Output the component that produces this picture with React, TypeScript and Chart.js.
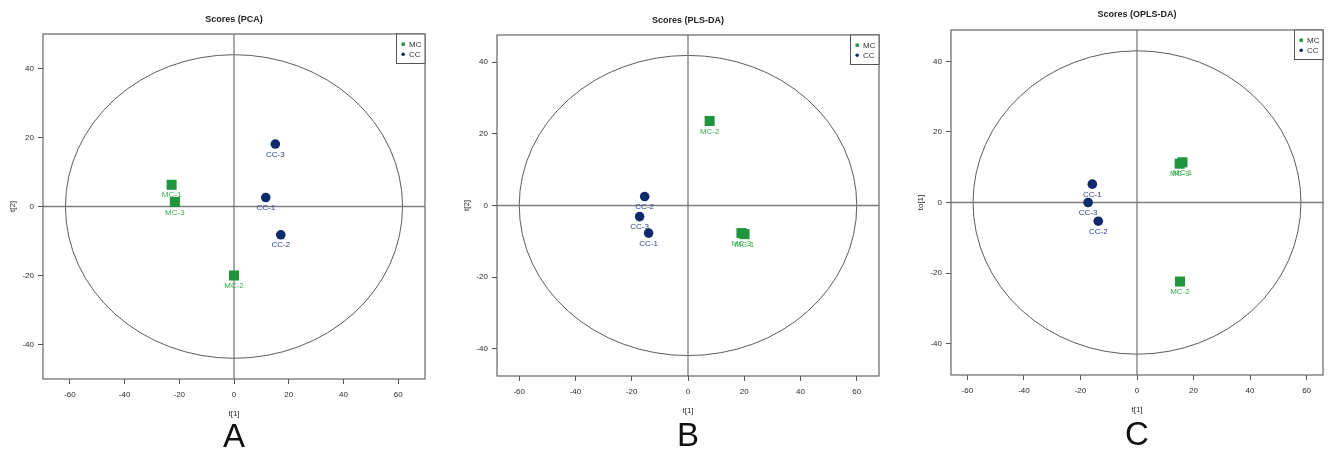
import React, { useEffect, useRef } from 'react';
import { Chart, registerables } from 'chart.js';

Chart.register(...registerables);

const FONT = '"Liberation Sans", Arial, Helvetica, sans-serif';
const W = 1339;
const H = 454;

// ---- shared tick labels ----
const xTickValues = [-60, -40, -20, 0, 20, 40, 60];
const yTickValues = [-40, -20, 0, 20, 40];
const groupNames = ['MC', 'CC'];

// ---- Panel A: PCA ----
const pcaMcLabels = ['MC-1', 'MC-2', 'MC-3'];
const pcaMcX = [-22.8, 0.0, -21.6];
const pcaMcY = [6.3, -20.0, 1.3];
const pcaCcLabels = ['CC-1', 'CC-2', 'CC-3'];
const pcaCcX = [11.6, 17.1, 15.1];
const pcaCcY = [2.6, -8.2, 18.1];
const pcaXRange = [-69.8, 69.8];
const pcaYRange = [-50, 50];
const pcaEllipse = [61.6, 44.0];

// ---- Panel B: PLS-DA ----
const plsMcLabels = ['MC-2', 'MC-3', 'MC-1'];
const plsMcX = [7.7, 19.0, 20.1];
const plsMcY = [23.6, -7.7, -8.0];
const plsCcLabels = ['CC-1', 'CC-2', 'CC-3'];
const plsCcX = [-14.0, -15.4, -17.2];
const plsCcY = [-7.7, 2.5, -3.1];
const plsXRange = [-67.9, 67.9];
const plsYRange = [-47.6, 47.6];
const plsEllipse = [60.0, 41.9];

// ---- Panel C: OPLS-DA ----
const oplsMcLabels = ['MC-2', 'MC-3', 'MC-1'];
const oplsMcX = [15.2, 15.1, 16.1];
const oplsMcY = [-22.4, 11.0, 11.4];
const oplsCcLabels = ['CC-1', 'CC-2', 'CC-3'];
const oplsCcX = [-15.8, -13.7, -17.3];
const oplsCcY = [5.2, -5.3, 0.0];
const oplsXRange = [-65.8, 65.8];
const oplsYRange = [-48.9, 48.9];
const oplsEllipse = [58.0, 43.0];

const GREEN = '#1f963d';
const GREEN_TXT = '#38ab4f';
const NAVY = '#0e2a6c';
const NAVY_TXT = '#2b3f8e';

type Panel = {
  title: string;
  letter: string;
  xTitle: string;
  yTitle: string;
  mcLabels: string[]; mcX: number[]; mcY: number[];
  ccLabels: string[]; ccX: number[]; ccY: number[];
  xRange: number[]; yRange: number[]; ellipse: number[];
  area: { l: number; r: number; t: number; b: number };
  titleY: number;
  letterY: number;
};

const panels: Panel[] = [
  {
    title: 'Scores (PCA)', letter: 'A', xTitle: 't[1]', yTitle: 't[2]',
    mcLabels: pcaMcLabels, mcX: pcaMcX, mcY: pcaMcY,
    ccLabels: pcaCcLabels, ccX: pcaCcX, ccY: pcaCcY,
    xRange: pcaXRange, yRange: pcaYRange, ellipse: pcaEllipse,
    area: { l: 43, r: 425, t: 34, b: 379 }, titleY: 19.3, letterY: 438,
  },
  {
    title: 'Scores (PLS-DA)', letter: 'B', xTitle: 't[1]', yTitle: 't[2]',
    mcLabels: plsMcLabels, mcX: plsMcX, mcY: plsMcY,
    ccLabels: plsCcLabels, ccX: plsCcX, ccY: plsCcY,
    xRange: plsXRange, yRange: plsYRange, ellipse: plsEllipse,
    area: { l: 497, r: 879, t: 35, b: 376 }, titleY: 20.7, letterY: 436.5,
  },
  {
    title: 'Scores (OPLS-DA)', letter: 'C', xTitle: 't[1]', yTitle: 'to[1]',
    mcLabels: oplsMcLabels, mcX: oplsMcX, mcY: oplsMcY,
    ccLabels: oplsCcLabels, ccX: oplsCcX, ccY: oplsCcY,
    xRange: oplsXRange, yRange: oplsYRange, ellipse: oplsEllipse,
    area: { l: 951, r: 1323, t: 30, b: 375 }, titleY: 15, letterY: 435.5,
  },
];

const Y_AXIS_W = 35;
const X_AXIS_H = 40;

function makePlugin(p: Panel) {
  return {
    id: 'scoreDecor' + p.letter,
    beforeDatasetsDraw(chart: any) {
      const { ctx, chartArea: a, scales } = chart;
      const xs = scales.x;
      const ys = scales.y;
      const cx = xs.getPixelForValue(0);
      const cy = ys.getPixelForValue(0);
      ctx.save();
      // ellipse (Hotelling T2)
      const rx = xs.getPixelForValue(p.ellipse[0]) - cx;
      const ry = cy - ys.getPixelForValue(p.ellipse[1]);
      ctx.beginPath();
      ctx.ellipse(cx, cy, rx, ry, 0, 0, Math.PI * 2);
      ctx.strokeStyle = '#4a4a4a';
      ctx.lineWidth = 0.9;
      ctx.stroke();
      // crosshair
      ctx.strokeStyle = '#7d7d7d';
      ctx.lineWidth = 1.3;
      ctx.beginPath();
      ctx.moveTo(cx, a.top);
      ctx.lineTo(cx, a.bottom);
      ctx.moveTo(a.left, cy);
      ctx.lineTo(a.right, cy);
      ctx.stroke();
      // box
      ctx.strokeStyle = '#666';
      ctx.lineWidth = 1.2;
      ctx.strokeRect(a.left, a.top, a.right - a.left, a.bottom - a.top);
      ctx.restore();
    },
    afterDatasetsDraw(chart: any) {
      const { ctx, chartArea: a } = chart;
      ctx.save();
      // point labels
      ctx.font = `8px ${FONT}`;
      ctx.textAlign = 'center';
      ctx.textBaseline = 'middle';
      const labelSets = [p.mcLabels, p.ccLabels];
      const labelColors = [GREEN_TXT, NAVY_TXT];
      chart.data.datasets.forEach((_: any, di: number) => {
        const meta = chart.getDatasetMeta(di);
        meta.data.forEach((el: any, i: number) => {
          ctx.fillStyle = labelColors[di];
          ctx.fillText(labelSets[di][i], el.x, el.y + 10.5);
        });
      });
      // legend box
      const lw = 28.5;
      const lh = 29.5;
      const lx = a.right - lw;
      const ly = a.top;
      ctx.fillStyle = '#fff';
      ctx.fillRect(lx, ly, lw, lh);
      ctx.strokeStyle = '#555';
      ctx.lineWidth = 1;
      ctx.strokeRect(lx, ly, lw, lh);
      ctx.textAlign = 'left';
      ctx.font = `8px ${FONT}`;
      // MC
      ctx.fillStyle = GREEN;
      ctx.fillRect(lx + 5, ly + 8.5, 3.4, 3.4);
      ctx.fillStyle = '#333';
      ctx.fillText(groupNames[0], lx + 12.5, ly + 10.5);
      // CC
      ctx.fillStyle = NAVY;
      ctx.beginPath();
      ctx.arc(lx + 6.7, ly + 20.3, 1.8, 0, Math.PI * 2);
      ctx.fill();
      ctx.fillStyle = '#333';
      ctx.fillText(groupNames[1], lx + 12.5, ly + 20.5);
      // title
      const mid = (a.left + a.right) / 2;
      ctx.textAlign = 'center';
      ctx.fillStyle = '#222';
      ctx.font = `bold 9px ${FONT}`;
      ctx.fillText(p.title, mid, p.titleY);
      // panel letter
      ctx.font = `33px ${FONT}`;
      ctx.fillStyle = '#111';
      ctx.fillText(p.letter, chart.scales.x.getPixelForValue(0), p.letterY);
      ctx.restore();
    },
  };
}

function ScorePanel({ p }: { p: Panel }) {
  const ref = useRef<HTMLCanvasElement | null>(null);
  useEffect(() => {
    if (!ref.current) return;
    const mcData = p.mcX.map((x, i) => ({ x, y: p.mcY[i] }));
    const ccData = p.ccX.map((x, i) => ({ x, y: p.ccY[i] }));
    const tickFont = { family: FONT, size: 8 };
    const chart = new Chart(ref.current, {
      type: 'scatter',
      data: {
        datasets: [
          {
            label: groupNames[0],
            data: mcData,
            pointStyle: 'rect',
            pointRadius: 7.1,
            backgroundColor: GREEN,
            borderWidth: 0,
          },
          {
            label: groupNames[1],
            data: ccData,
            pointStyle: 'circle',
            pointRadius: 4.8,
            backgroundColor: NAVY,
            borderWidth: 0,
          },
        ],
      },
      options: {
        responsive: false,
        animation: false,
        events: [],
        layout: {
          padding: {
            left: p.area.l - Y_AXIS_W,
            right: W - p.area.r,
            top: p.area.t,
            bottom: H - p.area.b - X_AXIS_H,
          },
        },
        plugins: {
          legend: { display: false },
          title: { display: false },
          tooltip: { enabled: false },
        },
        scales: {
          x: {
            type: 'linear',
            min: p.xRange[0],
            max: p.xRange[1],
            afterBuildTicks: (s: any) => {
              s.ticks = xTickValues.map((v) => ({ value: v }));
            },
            afterFit: (s: any) => {
              s.height = X_AXIS_H;
            },
            grid: { drawOnChartArea: false, drawTicks: true, tickLength: 5, color: '#555', lineWidth: 1 },
            border: { display: false },
            ticks: { font: tickFont, color: '#2a2a2a', padding: 6, maxRotation: 0 },
            title: { display: true, text: p.xTitle, font: tickFont, color: '#2a2a2a', padding: 0 },
          },
          y: {
            type: 'linear',
            min: p.yRange[0],
            max: p.yRange[1],
            afterBuildTicks: (s: any) => {
              s.ticks = yTickValues.map((v) => ({ value: v }));
            },
            afterFit: (s: any) => {
              s.width = Y_AXIS_W;
            },
            grid: { drawOnChartArea: false, drawTicks: true, tickLength: 5, color: '#555', lineWidth: 1 },
            border: { display: false },
            ticks: { font: tickFont, color: '#2a2a2a', padding: 4 },
            title: { display: true, text: p.yTitle, font: tickFont, color: '#2a2a2a', padding: 0 },
          },
        },
      },
      plugins: [makePlugin(p)],
    } as any);
    return () => chart.destroy();
  }, [p]);
  return (
    <canvas
      ref={ref}
      width={W}
      height={H}
      style={{ position: 'absolute', left: 0, top: 0, width: W, height: H, display: 'block' }}
    />
  );
}

export default function App() {
  return (
    <div style={{ position: 'absolute', left: 0, top: 0, width: W, height: H, background: '#fff' }}>
      {panels.map((p) => (
        <ScorePanel key={p.letter} p={p} />
      ))}
    </div>
  );
}
